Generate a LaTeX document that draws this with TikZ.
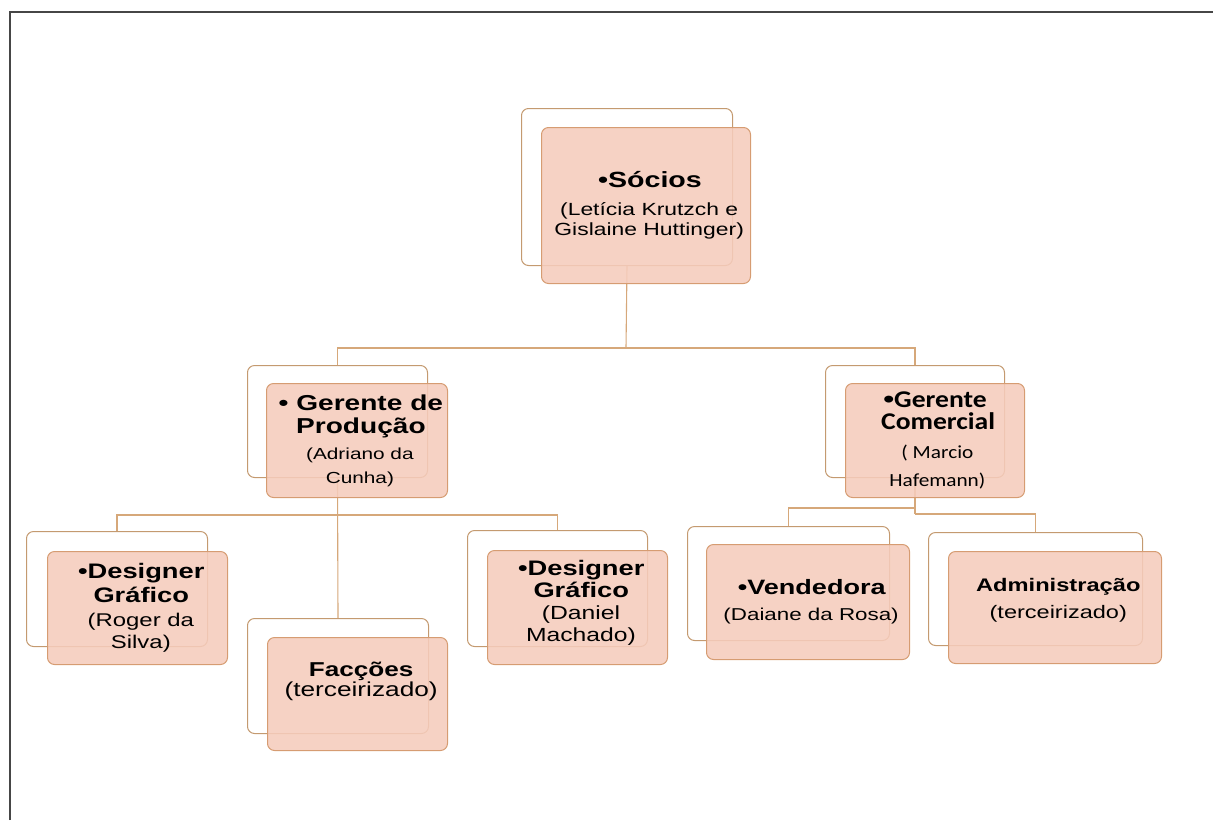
\documentclass[tikz,border=0pt]{standalone}
\usepackage{fontspec}
\setmainfont{Liberation Sans}[FakeStretch=1.3]
\newfontfamily\calibrifont{Carlito}[FakeStretch=1.15]
\usepackage{tikz}
\usetikzlibrary{positioning}
\definecolor{frontfill}{RGB}{245,204,188}
\definecolor{frontedge}{RGB}{214,156,114}
\definecolor{backedge}{RGB}{196,154,112}
\definecolor{linkcol}{RGB}{214,168,122}
\definecolor{framecol}{RGB}{70,70,70}
\newcommand{\headsz}[1]{\bfseries\fontsize{#1}{#1}\selectfont}
\newcommand{\subsz}[1]{\fontsize{#1}{#1}\selectfont}
\newcommand{\skipsz}[1]{\fontsize{10}{#1}\selectfont}

\begin{document}
\begin{tikzpicture}[
    x=1pt, y=-1pt,
    backbox/.style={draw=backedge, fill=white, line width=1pt, rounded corners=7pt,
        anchor=north west, inner sep=0pt},
    frontbox/.style={draw=frontedge, fill=frontfill, fill opacity=0.88, text opacity=1,
        line width=1pt, rounded corners=7pt, anchor=north west, inner sep=0pt, align=center},
    link/.style={draw=linkcol, line width=1.1pt}
]
    \useasboundingbox (0,0) rectangle (1213,820);
    \draw[framecol, line width=2pt] (10,820) -- (10,12) -- (1213,12);

    % back boxes
    \node (sociosB) at (521,108) [backbox, minimum width=211pt, minimum height=157pt] {};
    \node (producaoB) at (247,365) [backbox, minimum width=180pt, minimum height=112pt] {};
    \node (comercialB) at (825,365) [backbox, minimum width=179pt, minimum height=112pt] {};
    \node (rogerB) at (26,531) [backbox, minimum width=181pt, minimum height=115pt] {};
    \node (faccoesB) at (247,618) [backbox, minimum width=181pt, minimum height=115pt] {};
    \node (danielB) at (467,530) [backbox, minimum width=180pt, minimum height=116pt] {};
    \node (vendB) at (687,526) [backbox, minimum width=202pt, minimum height=114pt] {};
    \node (adminB) at (928,532) [backbox, minimum width=214pt, minimum height=113pt] {};

    % connectors
    \coordinate (j1) at (626,348);
    \coordinate (j2) at (337,515);
    \coordinate (j3) at (915,508);
    \coordinate (j4) at (915,514);
    \draw[link] (sociosB.south) -- (j1);
    \draw[link] (producaoB.north) |- (j1) -| (comercialB.north);
    \draw[link] (producaoB.south) -- (faccoesB.north);
    \draw[link] (rogerB.north) |- (j2) -| (danielB.north);
    \draw[link] (comercialB.south) -- (j4);
    \draw[link] (vendB.north) |- (j3);
    \draw[link] (adminB.north) |- (j4);

    % front boxes
    \node (socios) at (541,127) [frontbox, minimum width=209pt, minimum height=156pt, font=\skipsz{20}]
        {{\headsz{22} •Sócios}\\[8pt]
         {\subsz{17.6} (Letícia Krutzch e}\\{\subsz{17.6} Gislaine Huttinger)}};
    \node (producao) at (266,383) [frontbox, minimum width=181pt, minimum height=114pt, font=\skipsz{23}]
        {{\headsz{21.6} • Gerente de}\\{\headsz{21.6} Produção}\\[3pt]
         {\subsz{16} (Adriano da}\\[1pt]{\subsz{16} Cunha)}};
    \node (comercial) at (845,383) [frontbox, minimum width=179pt, minimum height=114pt, font=\skipsz{22}]
        {{\headsz{24}\rmfamily•\calibrifont Gerente}\\
         {\calibrifont\headsz{24} Comercial}\\[7pt]
         {\calibrifont\subsz{18.5} ( Marcio}\\[6pt]
         {\calibrifont\subsz{18.5} Hafemann)}};
    \node (roger) at (47,551) [frontbox, minimum width=180pt, minimum height=113pt, font=\skipsz{24}]
        {{\headsz{21} •Designer}\\{\headsz{21} Gráfico}\\
         {\subsz{18.4} (Roger da}\\[-2pt]{\subsz{18.4} Silva)}};
    \node (faccoes) at (267,637) [frontbox, minimum width=180pt, minimum height=113pt,
        font=\skipsz{20}, text depth=29pt]
        {{\headsz{20.1} Facções}\\
         {\subsz{20.2} (terceirizado)}};
    \node (daniel) at (487,550) [frontbox, minimum width=180pt, minimum height=114pt,
        font=\skipsz{22}, text depth=14pt]
        {{\headsz{21} •Designer}\\{\headsz{21} Gráfico}\\
         {\subsz{19} (Daniel}\\{\subsz{19} Machado)}};
    \node (vend) at (706,544) [frontbox, minimum width=203pt, minimum height=115pt, font=\skipsz{26}]
        {{\headsz{20.8} •Vendedora}\\
         {\subsz{17.2} (Daiane da Rosa)}};
    \node (admin) at (948,551) [frontbox, minimum width=213pt, minimum height=112pt,
        font=\skipsz{27}, text depth=19pt]
        {{\headsz{18.2} Administração}\\
         {\subsz{18.1} (terceirizado)}};
\end{tikzpicture}
\end{document}
